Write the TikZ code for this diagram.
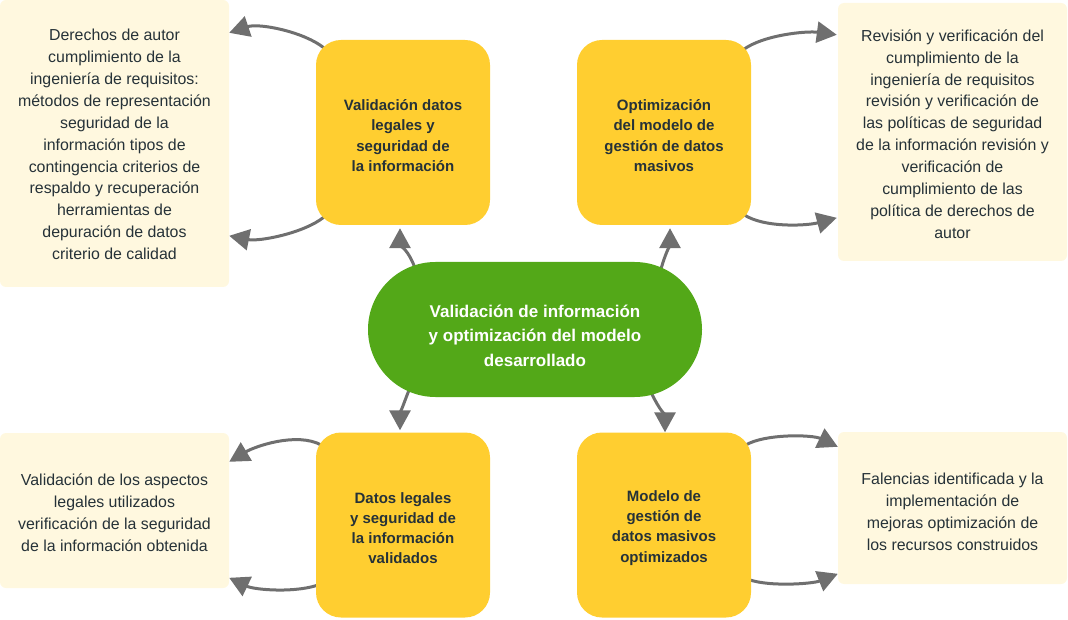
\documentclass[tikz,border=0pt]{standalone}
\usepackage{fontspec}
\setmainfont{Liberation Sans}
\usetikzlibrary{calc,arrows.meta,backgrounds}
\definecolor{hoja}{HTML}{53A818}
\definecolor{caja}{HTML}{FFCE30}
\definecolor{nota}{HTML}{FFF8DF}
\definecolor{flecha}{HTML}{6F6F6F}
\definecolor{tinta}{HTML}{263238}
\begin{document}
\begin{tikzpicture}[x=1pt, y=-1pt,
    notebox/.style={fill=nota, rounded corners=6pt, inner sep=0pt, minimum width=229pt},
    notetext/.style={align=center, text=tinta, inner sep=0pt, font=\fontsize{15.9}{21.9}\selectfont},
    stagebox/.style={fill=caja, rounded corners=25pt, inner sep=0pt,
      minimum width=174pt, minimum height=185pt},
    stagetext/.style={align=center, text=tinta, inner sep=0pt, yshift=-3pt,
      font=\bfseries\fontsize{15}{20.2}\selectfont},
    flow/.style={draw=flecha, line width=3pt, -{Triangle[length=20pt,width=21pt]}}]
      \useasboundingbox (0,0) rectangle (1068,620);
      % centro
      \node[fill=hoja, rounded corners=67.5pt, minimum width=334pt, minimum height=135pt, inner sep=0pt,
        label={[align=center, text=white, inner sep=0pt, yshift=-6pt,
          font=\bfseries\fontsize{17}{24.5}\selectfont]center:{Validación de información\\ y optimización del modelo\\ desarrollado}}]
        (centro) at (535,329.5) {};
      % cajas amarillas
      \node[stagebox, label={[stagetext]center:{Validación datos\\ legales y\\ seguridad de\\ la información}}] (legal) at (403,132.5) {};
      \node[stagebox, label={[stagetext]center:{Optimización\\ del modelo de\\ gestión de datos\\ masivos}}] (optim) at (664,132.5) {};
      \node[stagebox, label={[stagetext]center:{Datos legales\\ y seguridad de\\ la información\\ validados}}] (valid) at (403,525) {};
      \node[stagebox, label={[stagetext]center:{Modelo de\\ gestión de\\ datos masivos\\ optimizados}}] (model) at (664,525) {};
      % notas
      \node[notebox, minimum height=287pt, label={[notetext, yshift=-1pt]center:{Derechos de autor\\ cumplimiento de la\\
         ingeniería de requisitos:\\ métodos de representación\\ seguridad de la\\ información tipos de\\
         contingencia criterios de\\ respaldo y recuperación\\ herramientas de\\ depuración de datos\\ criterio de calidad}}]
        (notaLegal) at (114.5,143.5) {};
      \node[notebox, minimum height=258pt, label={[notetext, yshift=-2pt]center:{Revisión y verificación del\\ cumplimiento de la\\
         ingeniería de requisitos\\ revisión y verificación de\\ las políticas de seguridad\\ de la información revisión y\\
         verificación de\\ cumplimiento de las\\ política de derechos de\\ autor}}]
        (notaOptim) at (952.5,132) {};
      \node[notebox, minimum height=155pt, label={[notetext, yshift=-2pt]center:{Validación de los aspectos\\ legales utilizados\\
         verificación de la seguridad\\ de la información obtenida}}]
        (notaValid) at (114.5,510.5) {};
      \node[notebox, minimum height=152pt, label={[notetext, yshift=-4pt]center:{Falencias identificada y la\\ implementación de\\
         mejoras optimización de\\ los recursos construidos}}]
        (notaModel) at (952.5,508) {};
      % flechas
      \begin{scope}[on background layer]
        \draw[flow] ($(legal.north west)+(8,8)$) .. controls +(-20,-16) and +(30,-10) .. ($(notaLegal.north east)+(0,33)$);
        \draw[flow] ($(legal.south west)+(8,-8)$) .. controls +(-20,16) and +(30,6) .. ($(notaLegal.north east)+(0,236)$);
        \draw[flow] ($(optim.north east)+(-8,10)$) .. controls +(20,-15) and +(-30,-4) .. ($(notaOptim.north west)+(-1,32)$);
        \draw[flow] ($(optim.south east)+(-8,-11)$) .. controls +(20,14) and +(-30,8) .. ($(notaOptim.north west)+(-1,215)$);
        \draw[flow] ($(valid.north west)+(6,13)$) .. controls +(-25,-14) and +(25,-15) .. ($(notaValid.north east)+(0,29)$);
        \draw[flow] ($(valid.south west)+(6,-34)$) .. controls +(-25,10) and +(25,12) .. ($(notaValid.north east)+(0,145)$);
        \draw[flow] ($(model.north east)+(-6,13)$) .. controls +(20,-12) and +(-25,-12) .. ($(notaModel.north west)+(0,15)$);
        \draw[flow] ($(model.south east)+(-7,-40)$) .. controls +(20,10) and +(-25,10) .. ($(notaModel.north west)+(0,142)$);
        \draw[flow] ($(centro.north west)+(47,6)$) .. controls +(-5,-15) and +(0,15) .. ($(legal.south)+(-3,3)$);
        \draw[flow] ($(centro.north east)+(-42,10)$) .. controls +(4,-15) and +(0,15) .. ($(optim.south)+(6,3)$);
        \draw[flow] ($(centro.south west)+(42,-9)$) .. controls +(-5,12) and +(0,-15) .. ($(valid.north)+(-3,-2)$);
        \draw[flow] ($(centro.south east)+(-52,-7)$) .. controls +(5,12) and +(0,-15) .. ($(model.north)+(1,0)$);
      \end{scope}
\end{tikzpicture}
\end{document}
